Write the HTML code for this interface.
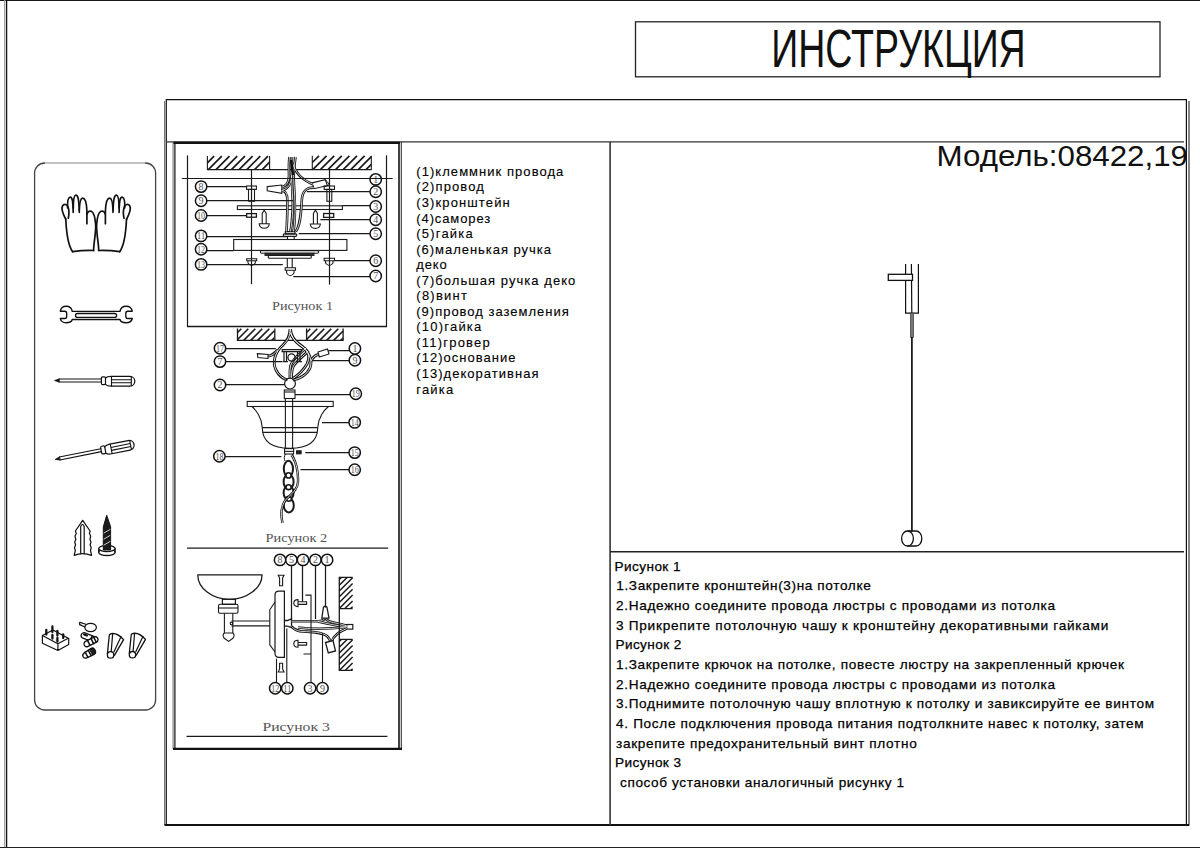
<!DOCTYPE html>
<html><head><meta charset="utf-8">
<style>
html,body{margin:0;padding:0;background:#fff;width:1200px;height:848px;overflow:hidden;}
svg{position:absolute;left:0;top:0;display:block;}
.s{font-family:"Liberation Sans",sans-serif;fill:#111;}
.v{font-family:"Liberation Sans",sans-serif;font-size:13px;fill:#000;stroke:#000;stroke-width:0.12px;}
.c{font-family:"Liberation Sans",sans-serif;font-size:13.6px;fill:#000;stroke:#000;stroke-width:0.25px;}
.n{font-family:"Liberation Serif",serif;font-size:10px;fill:#555;}
.m{font-family:"Liberation Serif",serif;fill:#555;}
</style></head><body>
<svg width="1200" height="848" viewBox="0 0 1200 848">
<g fill="none" stroke="#000" stroke-linecap="butt">
<!-- outer frame -->
<line x1="0" y1="0.5" x2="1200" y2="0.5" stroke="#1a1a1a" stroke-width="1.2"/>
<line x1="4.7" y1="0" x2="4.7" y2="848" stroke="#999" stroke-width="1.2"/>
<line x1="6.6" y1="0" x2="6.6" y2="848" stroke="#111" stroke-width="1.3"/>
<line x1="0" y1="847.5" x2="1200" y2="847.5" stroke="#222" stroke-width="1.2"/>
<!-- title box -->
<rect x="635.5" y="21.8" width="524.5" height="55" stroke="#222" stroke-width="1.3"/>
<!-- main box -->
<line x1="166" y1="99.6" x2="1187" y2="99.6" stroke="#111" stroke-width="1.4"/>
<line x1="164.6" y1="101" x2="164.6" y2="825" stroke="#777" stroke-width="1.2"/>
<line x1="166.3" y1="99" x2="166.3" y2="825" stroke="#111" stroke-width="1.2"/>
<line x1="1186.4" y1="99" x2="1186.4" y2="825" stroke="#111" stroke-width="1.2"/>
<line x1="1189" y1="101" x2="1189" y2="825.5" stroke="#444" stroke-width="1.3"/>
<line x1="164.5" y1="825" x2="1189" y2="825" stroke="#111" stroke-width="2"/>
<line x1="166" y1="141.9" x2="1184" y2="141.9" stroke="#333" stroke-width="1.3"/>
<!-- column divider -->
<line x1="610.1" y1="142" x2="610.1" y2="825" stroke="#333" stroke-width="1.6"/>
<line x1="610" y1="551.8" x2="1184" y2="551.8" stroke="#222" stroke-width="1.5"/>
<!-- inner diagram box -->
<line x1="173" y1="142.9" x2="400" y2="142.9" stroke="#111" stroke-width="2.2"/>
<line x1="173.1" y1="142" x2="173.1" y2="749" stroke="#777" stroke-width="1.1"/>
<line x1="174.9" y1="142" x2="174.9" y2="749" stroke="#111" stroke-width="1.2"/>
<line x1="399" y1="142" x2="399" y2="749" stroke="#111" stroke-width="1.6"/>
<line x1="401.3" y1="142" x2="401.3" y2="749" stroke="#333" stroke-width="1.1"/>
<line x1="173" y1="748.8" x2="402" y2="748.8" stroke="#111" stroke-width="2.2"/>
<!-- tools panel -->
<rect x="34.6" y="163" width="121" height="547" rx="10" ry="10" stroke="#444" stroke-width="1.3"/>
<line x1="45" y1="163" x2="145" y2="163" stroke="#fff" stroke-width="1.6"/>
<line x1="45" y1="163" x2="145" y2="163" stroke="#aaa" stroke-width="1.2"/>
</g>


<!-- TOOLS -->
<g id="tools" fill="none" stroke="#111" stroke-width="1.45" stroke-linejoin="round" stroke-linecap="round">
<g stroke-width="1.7">
<path d="M72.6 251.7 C68.5 246 66.5 236 65.8 219"/>
<path d="M65.6 219 C62.5 213 61.3 208 62.6 205.8 C64 203.8 66.8 204 68 206.8 C69 209.5 69.2 214 68.3 218.2"/>
<path d="M67.6 208 C67.3 202 67.8 198 69.8 197.3 C72 196.6 73 200 73.2 212.3"/>
<path d="M73.3 208 C73.3 201 73.8 195.2 75.8 195.1 C78.2 195 79 200 79.3 212.3"/>
<path d="M79.3 210 C79.6 203 80.5 198.2 82.6 198.2 C85.3 198.2 86.6 203 86.9 211 V223.7"/>
<path d="M87.1 214 C87.6 211.6 89.6 210.6 91.3 211.3 C93.8 212.3 95 217 95.6 224 C96.3 232 93.6 243 93.6 250.5"/>
<path d="M72.6 251.7 C80 250.6 87 250.3 93.6 250.5"/>
</g>
<g transform="translate(192.3 0) scale(-1 1)" stroke-width="1.7">
<path d="M72.6 251.7 C68.5 246 66.5 236 65.8 219"/>
<path d="M65.6 219 C62.5 213 61.3 208 62.6 205.8 C64 203.8 66.8 204 68 206.8 C69 209.5 69.2 214 68.3 218.2"/>
<path d="M67.6 208 C67.3 202 67.8 198 69.8 197.3 C72 196.6 73 200 73.2 212.3"/>
<path d="M73.3 208 C73.3 201 73.8 195.2 75.8 195.1 C78.2 195 79 200 79.3 212.3"/>
<path d="M79.3 210 C79.6 203 80.5 198.2 82.6 198.2 C85.3 198.2 86.6 203 86.9 211 V223.7"/>
<path d="M87.1 214 C87.6 211.6 89.6 210.6 91.3 211.3 C93.8 212.3 95 217 95.6 224 C96.3 232 93.6 243 93.6 250.5"/>
<path d="M72.6 251.7 C80 250.6 87 250.3 93.6 250.5"/>
</g>
<!-- wrench -->
<path d="M60.3 311.2 C60.8 307.8 63.2 306.2 66.2 306.2 C69.5 306.2 71.8 308.5 72.2 311.3 H120 C120.4 308.5 122.8 306.2 126.2 306.2 C129.3 306.2 131.7 307.8 132.3 311.2 H127.6 C126.4 311.2 125.8 312 125.8 313.5 V316.2 C125.8 317.7 126.4 318.5 127.6 318.5 H132.3 C131.7 321.2 129.3 322.7 126.2 322.7 C122.8 322.7 120.4 321.4 120 319.5 H72.2 C71.8 321.4 69.5 322.7 66.2 322.7 C63.2 322.7 60.8 321.2 60.3 318.5 H64.8 C66 318.5 66.7 317.7 66.7 316.2 V313.5 C66.7 312 66 311.2 64.8 311.2 Z" stroke-width="1.35"/>
<rect x="75.5" y="313.5" width="41.1" height="3.9" rx="1.95" stroke-width="1.3"/>
<!-- screwdriver 1 -->
<g>
<path d="M59 379 L54.6 380.5 L59 382 Z" fill="#111" stroke-width="0.8"/>
<path d="M59 379 H101.4 M59 382 H101.4" stroke-width="1.1"/>
<rect x="101.4" y="376.8" width="4.1" height="7.8" rx="1.3" stroke-width="1.2"/>
<path d="M105.5 378 C107 376.4 108.5 376.4 111 376.4 H129.8 C132.8 376.4 134.8 378.7 134.8 381.2 C134.8 383.8 132.8 386.1 129.8 386.1 H111 C108.5 386.1 107 386 105.5 384.4" stroke-width="1.25"/>
<path d="M111.5 376.5 V386 M131.3 376.8 V385.7 M111.5 379.8 H131.3 M111.5 382.8 H131.3" stroke-width="1.1"/>
</g>
<g transform="translate(0.65 78.9) rotate(-11.4 54.6 380.5)">
<path d="M59 379 L54.6 380.5 L59 382 Z" fill="#111" stroke-width="0.8"/>
<path d="M59 379 H101.4 M59 382 H101.4" stroke-width="1.1"/>
<rect x="101.4" y="376.8" width="4.1" height="7.8" rx="1.3" stroke-width="1.2"/>
<path d="M105.5 378 C107 376.4 108.5 376.4 111 376.4 H129.8 C132.8 376.4 134.8 378.7 134.8 381.2 C134.8 383.8 132.8 386.1 129.8 386.1 H111 C108.5 386.1 107 386 105.5 384.4" stroke-width="1.25"/>
<path d="M111.5 376.5 V386 M131.3 376.8 V385.7 M111.5 379.8 H131.3 M111.5 382.8 H131.3" stroke-width="1.1"/>
</g>
<!-- anchor -->
<path d="M82.7 520.3 L75.4 531 L76.3 533.5 L75 536 L75.8 539.5 L74.7 542 L75.6 545 L74.5 547.5 L75.3 550.5 L74.2 555.4 C79 553.3 86 553.3 91.6 555.4 L90.5 550.5 L91.2 547.5 L90.1 545 L91 542 L89.9 539.5 L90.7 536 L89.4 533.5 L90.1 531 Z" stroke-width="1.2"/>
<path d="M80.7 553.6 V526.5 Q82.5 522.5 84.2 526.5 V553.6" stroke-width="1.2"/>
<!-- screw -->
<ellipse cx="106.9" cy="552.2" rx="8.2" ry="3.3" stroke-width="1.3"/>
<path d="M98.7 548.5 V552 M115.1 548.5 V552" stroke-width="1.2"/>
<ellipse cx="106.9" cy="548.5" rx="8.2" ry="3.1" fill="#fff" stroke-width="1.3"/>
<path d="M106.6 515.6 L103.3 527 V550 H110.6 V527 Z" fill="#1a1a1a" stroke-width="1"/>
<path d="M104 533 L110 529.5 M104 539 L110 535.5 M104 545 L110 541.5" stroke="#ddd" stroke-width="0.9"/>
<!-- terminal block -->
<path d="M42.4 635.5 L53 630 L68.2 638.3 L57.9 643.8 Z M42.4 635.5 V643.3 L57.9 650.5 L68.7 644.4 V638.3 M57.9 643.8 V650.5" stroke-width="1.2"/>
<path d="M46.3 634.5 V630 M52.4 632 V626.5 M57.4 635.5 V631 M63.2 638 V634.5 M52.4 638.5 V635 M57.4 641.5 V638" stroke-width="2.3"/>
<!-- ring lug -->
<ellipse cx="90.6" cy="627.5" rx="5.8" ry="4.1" stroke-width="1.2"/>
<path d="M80 622.4 L85.8 624.3 M79.8 624.6 L84.8 627" stroke-width="1.2"/>
<path d="M80 622.4 Q79 623.6 79.8 624.6" stroke-width="1.2"/>
<!-- ferrules -->
<g transform="translate(89.3 637.6) rotate(21)">
<rect x="-8.5" y="-2.8" width="17" height="5.6" rx="2.8" stroke-width="1.3"/>
<path d="M-6 -1 L-3 -1" stroke-width="2.2"/>
<path d="M2 -2.8 V2.8 M5 -2.8 V2.8" stroke-width="1.5"/>
</g>
<g transform="translate(91 641.8) rotate(-27)">
<rect x="-7.5" y="-2.8" width="15" height="5.6" rx="2.8" fill="#fff" stroke-width="1.3"/>
<path d="M-2.5 -2.8 V2.8 M1.5 -2.8 V2.8 M4.5 -2.6 V2.6" stroke-width="1.5"/>
</g>
<!-- bullet -->
<g transform="translate(89 653.4) rotate(-29)">
<path d="M-6.8 0 C-6.8 -2 -5.5 -2.6 -3.5 -2.8 L4.5 -3.3 C7.5 -3.3 7.8 3.3 4.5 3.3 L-3.5 2.8 C-5.5 2.6 -6.8 2 -6.8 0 Z" stroke-width="1.3"/>
<path d="M-2.8 -2.9 V2.9 M0.8 -3 V3" stroke-width="1.5"/>
<path d="M2.5 -3.1 H5 C6.5 -3 6.5 3 5 3.1 H2.5 Z" fill="#222" stroke-width="1"/>
</g>
<!-- wire nuts -->
<g>
<circle cx="110.6" cy="654.9" r="3.2" stroke-width="1.3"/>
<path d="M107.4 653.5 L109.4 634.5 C112 633 117 632.6 123.6 639.6 L114.4 655.3" stroke-width="1.3"/>
<path d="M112.6 634.4 L111.2 651.6 M121 636.7 L114 651.8" stroke-width="1.2"/>
</g>
<g transform="translate(21.9 -0.2)">
<circle cx="110.6" cy="654.9" r="3.2" stroke-width="1.3"/>
<path d="M107.4 653.5 L109.4 634.5 C112 633 117 632.6 123.6 639.6 L114.4 655.3" stroke-width="1.3"/>
<path d="M112.6 634.4 L111.2 651.6 M121 636.7 L114 651.8" stroke-width="1.2"/>
</g>
</g>

<!-- FIG 1 -->
<g id="fig1" fill="none" stroke="#1a1a1a" stroke-width="1.1">
<line x1="187.5" y1="155.4" x2="187.5" y2="326.5" stroke-width="1.2"/>
<line x1="386.5" y1="155.3" x2="386.5" y2="326.5" stroke-width="1.2"/>
<line x1="187" y1="326.5" x2="387" y2="326.5" stroke-width="1.4"/>
<!-- ceiling -->
<path d="M207.4 156.1 V169.6 H371.3 V155.8 M269.6 156.1 V169.6 M312.3 155.8 V169.6"/>
<path d="M207.4 162.8 L214.1 156.1 M208.3 169.6 L221.8 156.1 M216.0 169.6 L229.5 156.1 M223.7 169.6 L237.2 156.1 M231.4 169.6 L244.9 156.1 M239.1 169.6 L252.6 156.1 M246.8 169.6 L260.3 156.1 M254.5 169.6 L268.0 156.1 M262.2 169.6 L269.6 162.2"
 stroke-width="1.7"/>
<path d="M312.3 162.5 L319.0 155.8 M313.0 169.4 L326.6 155.8 M320.6 169.4 L334.2 155.8 M328.2 169.4 L341.8 155.8 M335.8 169.4 L349.4 155.8 M343.4 169.4 L357.0 155.8 M351.0 169.4 L364.6 155.8 M358.6 169.4 L371.3 156.7 M366.2 169.4 L371.3 164.3"
 stroke-width="1.7"/>
<line x1="181.9" y1="178.5" x2="392.4" y2="178.5" stroke-width="1.2"/>
<!-- axes -->
<line x1="251.5" y1="169.6" x2="251.5" y2="284.2" stroke-width="1.2"/>
<line x1="329.5" y1="169.4" x2="329.5" y2="284.6" stroke-width="1.2"/>
<!-- bolts 8 -->
<rect x="246.6" y="186" width="9.8" height="3.4"/>
<rect x="248.5" y="189.4" width="6" height="11.8"/>
<rect x="324.2" y="186" width="10.3" height="3.4"/>
<rect x="326.9" y="189.4" width="4.9" height="11.9"/>
<!-- plate 3 -->
<rect x="237.4" y="205.8" width="105" height="3.7"/>
<!-- nuts 10 -->
<rect x="246.6" y="213.6" width="9.8" height="3.6" stroke-width="1.3"/>
<rect x="323.6" y="213.5" width="10.1" height="3.9" stroke-width="1.3"/>
<!-- screws 4 -->
<path d="M262.2 223.8 V213.5 L264.2 210.2 L266.2 213.5 V223.8 M259.2 223.8 H269.3 Q268.8 228.3 264.2 228.3 Q259.6 228.3 259.2 223.8 Z"/>
<path d="M313.4 224 V213.5 L315.4 210 L317.4 213.5 V224 M310.3 224 H320.4 Q319.9 228.4 315.3 228.4 Q310.7 228.4 310.3 224 Z"/>
<!-- base 12 -->
<rect x="233.7" y="239.5" width="113.2" height="10.9"/>
<!-- canopy layers -->
<rect x="260.4" y="250.6" width="58.3" height="2.6" rx="1.2" stroke-width="1.1"/>
<rect x="265" y="253.2" width="49" height="2.2" fill="#333" stroke-width="1"/>
<rect x="268.3" y="255.4" width="43" height="2.9" rx="1" stroke-width="1.1"/>
<!-- nut 5 -->
<path d="M285.4 231.6 H295 V233.8 H285.4 Z" stroke-width="1.2"/>
<rect x="283.3" y="233.8" width="13.4" height="2.5" rx="1" stroke-width="1.2"/>
<path d="M287.5 236.3 V239.5 M294.2 236.3 V239.5"/>
<!-- deco nuts 13/6 -->
<path d="M246.7 258.7 H256.7 V260.8 H246.7 Z M248 260.8 V263 Q251.6 268 255.3 263 V260.8"/>
<path d="M324.2 258.3 H334.5 V260.8 H324.2 Z M325.6 260.8 V263 Q329.3 268 333 263 V260.8"/>
<!-- knob 7 -->
<path d="M287.3 258.1 V267.8 M292.2 258.1 V267.8 M285.2 267.8 H295.5 V270.2 H285.2 Z M286.6 270.2 V273 Q290.3 278.5 294 273 V270.2"/>
<!-- wire nuts -->
<path d="M267.2 186.6 L281.8 185 V193.3 L267.2 190.8 Z"/>
<path d="M312 182.9 L325.3 179.7 L327.4 185.5 L314.1 188.7 Z"/>
<!-- wires -->
<path d="M289.5 157 C288.5 165 289 172 289 176 C289 182 286 186 281.8 187.2" stroke="#111" stroke-width="2.6"/>
<path d="M291.5 175 C291.5 183 288 189.5 281.8 190.3" stroke="#111" stroke-width="2.6"/>
<path d="M281.8 190.8 C286 191 287.2 194 287.3 200 C287.6 212 287 222 286.5 231.4" stroke="#111" stroke-width="2.6"/>
<path d="M292 157 C291.5 170 291.5 180 292.5 195 C293.5 210 292 222 290.5 231.4" stroke="#111" stroke-width="2.6"/>
<path d="M295.5 157 C294.5 165 293 172 294 185 C295 200 296 215 293.5 231.4" stroke="#111" stroke-width="2.6"/>
<path d="M292.5 163 C295 172 302 180 312.8 184.2" stroke="#111" stroke-width="2.6"/>
<path d="M313.6 187.6 C306 187.5 302.5 191 301.8 200 C301 215 300 226 295.8 231.4" stroke="#111" stroke-width="2.6"/>
<path d="M289.5 157 C288.5 165 289 172 289 176 C289 182 286 186 281.8 187.2" stroke="#fff" stroke-width="0.8"/>
<path d="M291.5 175 C291.5 183 288 189.5 281.8 190.3" stroke="#fff" stroke-width="0.8"/>
<path d="M281.8 190.8 C286 191 287.2 194 287.3 200 C287.6 212 287 222 286.5 231.4" stroke="#fff" stroke-width="0.8"/>
<path d="M292 157 C291.5 170 291.5 180 292.5 195 C293.5 210 292 222 290.5 231.4" stroke="#fff" stroke-width="0.8"/>
<path d="M295.5 157 C294.5 165 293 172 294 185 C295 200 296 215 293.5 231.4" stroke="#fff" stroke-width="0.8"/>
<path d="M292.5 163 C295 172 302 180 312.8 184.2" stroke="#fff" stroke-width="0.8"/>
<path d="M313.6 187.6 C306 187.5 302.5 191 301.8 200 C301 215 300 226 295.8 231.4" stroke="#fff" stroke-width="0.8"/>
<path d="M291 160 L293 175" stroke="#111" stroke-width="2.5"/>
<path d="M325.5 180 C328 182 329 184 329 186" stroke-width="1"/>
<!-- leaders -->
<path d="M206.8 186.5 H246.6 M206.8 200.5 H293 M206.8 215.5 H246.6 M206.8 236.5 H287 M206.8 250.5 H233.7 M206.8 264.5 H282.8" stroke-width="1.25"/>
<path d="M306.8 191.5 H370 M342.4 205.5 H370 M320.4 219.5 H370 M298.7 233.5 H370 M334.5 260.5 H370 M293.3 276.5 H370" stroke-width="1.25"/>
</g>
<g fill="#fff" stroke="#111" stroke-width="1.5">
<circle cx="201.1" cy="186.6" r="5.7"/><circle cx="201.1" cy="200.8" r="5.7"/><circle cx="201.1" cy="215.5" r="5.7"/>
<circle cx="201.1" cy="235.9" r="5.7"/><circle cx="201.1" cy="249.2" r="5.7"/><circle cx="201.1" cy="264.4" r="5.7"/>
<circle cx="375.7" cy="179.4" r="5.7"/><circle cx="375.7" cy="191.7" r="5.7"/><circle cx="375.7" cy="206.5" r="5.7"/>
<circle cx="375.7" cy="219.8" r="5.7"/><circle cx="375.7" cy="233.7" r="5.7"/><circle cx="375.7" cy="260.8" r="5.7"/>
<circle cx="375.7" cy="276" r="5.7"/>
</g>
<g class="n" text-anchor="middle">
<text x="201.1" y="189.9">8</text><text x="201.1" y="204.1">9</text><text x="201.1" y="218.8" textLength="8" lengthAdjust="spacingAndGlyphs">10</text>
<text x="201.1" y="239.2" textLength="8" lengthAdjust="spacingAndGlyphs">11</text><text x="201.1" y="252.5" textLength="8" lengthAdjust="spacingAndGlyphs">12</text><text x="201.1" y="267.7" textLength="8" lengthAdjust="spacingAndGlyphs">13</text>
<text x="375.7" y="182.7">1</text><text x="375.7" y="195">2</text><text x="375.7" y="209.8">3</text>
<text x="375.7" y="223.1">4</text><text x="375.7" y="237">5</text><text x="375.7" y="264.1">6</text><text x="375.7" y="279.3">7</text>
</g>
<line x1="181.9" y1="178.5" x2="392.4" y2="178.5" stroke="#1a1a1a" stroke-width="1.2"/>
<text class="m" x="272.1" y="309.9" font-size="12.5" textLength="60.9" lengthAdjust="spacingAndGlyphs">Рисунок 1</text>


<!-- FIG 2 -->
<g id="fig2" fill="none" stroke="#1a1a1a" stroke-width="1.1">
<path d="M237.5 328.4 V340.4 H343.1 V328.4 M274.8 328.4 V340.4 M306.6 328.4 V340.4" stroke-width="1.3"/>
<path d="M237.3 332.8 L241.3 328.8 M237.3 339.8 L248.3 328.8 M243.7 340.4 L255.3 328.8 M250.7 340.4 L262.3 328.8 M257.7 340.4 L269.3 328.8 M264.7 340.4 L274.4 330.7 M271.7 340.4 L274.4 337.7" stroke-width="1.6"/>
<path d="M306.3 332.8 L310.3 328.8 M306.3 339.8 L317.3 328.8 M312.7 340.4 L324.3 328.8 M319.7 340.4 L331.3 328.8 M326.7 340.4 L338.3 328.8 M333.7 340.4 L343.1 331.0 M340.7 340.4 L343.1 338.0" stroke-width="1.6"/>
<!-- wires onion -->
<path d="M290 329 C290 336 288 340 283 345 C275 352 272 362 276 370 C279 376 284 379 287.5 380" stroke="#111" stroke-width="2.8"/>
<path d="M290.5 329 C291 336 294 341 300 345 C309 351 313 360 310 368 C307 375 299 379 293 380" stroke="#111" stroke-width="2.8"/>
<path d="M290.5 333 C292 338 297 343 303 347 C309.5 352 310 358 307 364 C303 371 297 376 292 379" stroke="#111" stroke-width="2.8"/>
<path d="M306 348 C301 353 293 358 290.5 366 C289.5 371 290 375 290 378.5" stroke="#111" stroke-width="2.8"/>
<path d="M308.5 350.5 C304 356 296 361 293 367 C291.5 371 291.5 375 291.5 378.5" stroke="#111" stroke-width="2.8"/>
<path d="M268 356 C272 356 275 353 277.5 350" stroke="#111" stroke-width="2.8"/>
<path d="M318.6 354.5 C315 355 312.5 358 311 361" stroke="#111" stroke-width="2.8"/>
<path d="M290 329 C290 336 288 340 283 345 C275 352 272 362 276 370 C279 376 284 379 287.5 380" stroke="#fff" stroke-width="0.9"/>
<path d="M290.5 329 C291 336 294 341 300 345 C309 351 313 360 310 368 C307 375 299 379 293 380" stroke="#fff" stroke-width="0.9"/>
<path d="M290.5 333 C292 338 297 343 303 347 C309.5 352 310 358 307 364 C303 371 297 376 292 379" stroke="#fff" stroke-width="0.9"/>
<path d="M306 348 C301 353 293 358 290.5 366 C289.5 371 290 375 290 378.5" stroke="#fff" stroke-width="0.9"/>
<path d="M308.5 350.5 C304 356 296 361 293 367 C291.5 371 291.5 375 291.5 378.5" stroke="#fff" stroke-width="0.9"/>
<path d="M268 356 C272 356 275 353 277.5 350" stroke="#fff" stroke-width="0.9"/>
<path d="M318.6 354.5 C315 355 312.5 358 311 361" stroke="#fff" stroke-width="0.9"/>
<!-- wire nuts -->
<path d="M257.3 353.6 L268 354.5 V358.5 L257.8 357.6 Z"/>
<path d="M318 352 L327.5 349 L329 354 L319.3 357 Z"/>
<!-- hook bracket -->
<path d="M282.2 349.6 H301.3 V351.6 H282.2 Z M284 351.6 V361.7 M286.5 351.6 V361.7 M297.5 351.6 V361.7 M300 351.6 V361.7 M282.5 361.7 H288 M296 361.7 H302" stroke-width="1.2"/>
<circle cx="291.5" cy="357.5" r="3.6" stroke-width="1.3"/>
<!-- ball + cup -->
<circle cx="290" cy="383.6" r="5.4" stroke-width="1.2"/>
<rect x="284.3" y="390" width="10.7" height="8.5"/>
<line x1="284.3" y1="392" x2="295" y2="392"/>
<!-- bowl -->
<rect x="247.2" y="401.4" width="86" height="5.1"/>
<path d="M252 406.5 C256 410 262 418 262.3 428 C262.5 440 270 448.3 290 448.3 C310 448.3 317.5 440 317.7 428 C318 418 324 410 328.5 406.5"/>
<line x1="262.3" y1="427.6" x2="317.7" y2="427.6"/>
<line x1="262.8" y1="432.4" x2="317.2" y2="432.4"/>
<line x1="285.4" y1="398.5" x2="285.4" y2="448.3"/>
<line x1="292.6" y1="398.5" x2="292.6" y2="448.3"/>
<rect x="284.6" y="448.6" width="9" height="5.4"/><line x1="284.6" y1="451.4" x2="293.6" y2="451.4"/>
<rect x="296.6" y="450.8" width="4.5" height="3" fill="#222"/>
<!-- chain -->
<path d="M285.5 454 C284 456 284 459 285 461 M292 454 C294 456 294.5 458 293.5 461" stroke-width="1"/>
<ellipse cx="288.4" cy="468.8" rx="4.6" ry="8" stroke-width="2"/>
<ellipse cx="288.6" cy="481.7" rx="5" ry="7.4" stroke-width="2"/>
<ellipse cx="288.6" cy="492.7" rx="5" ry="7" stroke-width="2"/>
<ellipse cx="288.8" cy="505.4" rx="5" ry="7" stroke-width="2"/>
<ellipse cx="288.5" cy="475.4" rx="2.6" ry="2.6" fill="#fff" stroke-width="1.6"/>
<ellipse cx="288.6" cy="487.2" rx="2.6" ry="2.4" fill="#fff" stroke-width="1.6"/>
<ellipse cx="288.8" cy="498.8" rx="2.6" ry="2.4" fill="#fff" stroke-width="1.6"/>
<path d="M291.5 455 C296 461 298.5 472 298 482 C297.5 490 291 494 285.5 500 C282 505 280 512 282.5 523" stroke="#111" stroke-width="2.4"/>
<path d="M291.5 455 C296 461 298.5 472 298 482 C297.5 490 291 494 285.5 500 C282 505 280 512 282.5 523" stroke="#fff" stroke-width="0.8"/>
<!-- leaders -->
<path d="M225.8 348.5 H275.8 M225.8 361.5 H282.2 M225.8 384.5 H284.6 M225.1 456.5 H281.4" stroke-width="1.25"/>
<path d="M328.2 350.5 H349.2 M312.6 360.5 H349.2 M295.0 394.5 H350.2 M322.0 422.5 H349 M305.3 452.5 H349 M300.5 469.5 H349" stroke-width="1.25"/>
</g>
<g fill="#fff" stroke="#111" stroke-width="1.5">
<circle cx="220" cy="348.2" r="5.7"/><circle cx="220" cy="361.6" r="5.7"/><circle cx="220" cy="385" r="5.7"/><circle cx="219.4" cy="456.2" r="5.7"/>
<circle cx="354.9" cy="348.5" r="5.7"/><circle cx="354.9" cy="360.2" r="5.7"/><circle cx="355.8" cy="393.8" r="5.7"/>
<circle cx="354.7" cy="422.4" r="5.7"/><circle cx="354.7" cy="452.6" r="5.7"/><circle cx="354.7" cy="469.8" r="5.7"/>
</g>
<g class="n" text-anchor="middle">
<text x="220" y="351.5" textLength="8" lengthAdjust="spacingAndGlyphs">17</text><text x="220" y="364.9">7</text><text x="220" y="388.3">2</text><text x="219.4" y="459.5" textLength="8" lengthAdjust="spacingAndGlyphs">18</text>
<text x="354.9" y="351.8">1</text><text x="354.9" y="363.5">9</text><text x="355.8" y="397.1" textLength="8" lengthAdjust="spacingAndGlyphs">19</text>
<text x="354.7" y="425.7" textLength="8" lengthAdjust="spacingAndGlyphs">14</text><text x="354.7" y="455.9" textLength="8" lengthAdjust="spacingAndGlyphs">15</text><text x="354.7" y="473.1" textLength="8" lengthAdjust="spacingAndGlyphs">16</text>
</g>
<text class="m" x="265.5" y="542.4" font-size="12.5" textLength="61.8" lengthAdjust="spacingAndGlyphs">Рисунок 2</text>
<line x1="187" y1="548.2" x2="388.2" y2="548.2" stroke="#1a1a1a" stroke-width="1.3"/>

<!-- FIG 3 -->
<g id="fig3" fill="none" stroke="#1a1a1a" stroke-width="1.1">
<!-- bowl -->
<path d="M197.8 574.9 H262 C262 588 247 599.3 229.6 599.3 C212 599.3 197.8 588 197.8 574.9 Z" stroke-width="1.3"/>
<rect x="222.4" y="599.3" width="13" height="5" stroke-width="1.2"/>
<rect x="218.5" y="604.2" width="19.5" height="9.1" rx="1.5"/>
<line x1="218.5" y1="608" x2="238" y2="608"/>
<path d="M224.4 613.3 V633 M232.8 613.3 V633"/>
<path d="M224.4 633 C223 634 222.5 636 224 638 L228.6 641.4 L233.2 638 C234.6 636 234.3 634 232.8 633 Z"/>
<!-- arm -->
<path d="M231.5 621 H269.8 M231.5 625.9 H269.8"/>
<circle cx="231.5" cy="623.4" r="1.3"/>
<!-- backplate -->
<path d="M269.8 609.7 V644.7 L275 652 M269.8 609.7 L275 602"/>
<path d="M275 595 Q275 591.2 279 591.2 H284.4 V657.4 H279 Q275 657.4 275 653 Z" stroke-width="1.2"/>
<!-- screws 8 / 12 -->
<path d="M278.2 575.3 H284 L282.6 578 V585.7 H279.6 V578 Z"/>
<path d="M279.6 663.3 H282.6 V669 L284 672 H278.2 L279.6 669 Z"/>
<!-- rod & washer -->
<path d="M284.4 620.5 H287.5 L291.5 618.8 V627.6 L287.5 626.2 H284.4" stroke-width="1.3"/>
<rect x="346.7" y="624.5" width="6.1" height="4.6" stroke-width="1.2"/>
<!-- wires -->
<path d="M291.5 621.2 H318 C322 621.2 324 620 325.2 618.2" stroke="#111" stroke-width="2.6"/>
<path d="M325.5 618.5 C327 621 332 622.5 338 623.5 C342 624.2 344 625 346.7 625.8" stroke="#111" stroke-width="2.6"/>
<path d="M291.5 626.5 C294 629 297 631.3 303 631.5 C312 632 322 632 327 636 C329 638 330 640 330.5 642" stroke="#111" stroke-width="2.6"/>
<path d="M298 627.5 C310 629 325 629.5 346.7 627" stroke="#111" stroke-width="2.6"/>
<path d="M318 621.5 C328 623.5 336 626 346.7 626.5" stroke="#111" stroke-width="2.6"/>
<path d="M331.5 642 C333 637 338 632 346.7 628.5" stroke="#111" stroke-width="2.6"/>
<path d="M291.5 621.2 H318 C322 621.2 324 620 325.2 618.2" stroke="#fff" stroke-width="0.8"/>
<path d="M325.5 618.5 C327 621 332 622.5 338 623.5 C342 624.2 344 625 346.7 625.8" stroke="#fff" stroke-width="0.8"/>
<path d="M291.5 626.5 C294 629 297 631.3 303 631.5 C312 632 322 632 327 636 C329 638 330 640 330.5 642" stroke="#fff" stroke-width="0.8"/>
<path d="M298 627.5 C310 629 325 629.5 346.7 627" stroke="#fff" stroke-width="0.8"/>
<path d="M318 621.5 C328 623.5 336 626 346.7 626.5" stroke="#fff" stroke-width="0.8"/>
<path d="M331.5 642 C333 637 338 632 346.7 628.5" stroke="#fff" stroke-width="0.8"/>
<!-- wire nuts -->
<path d="M321.8 618.2 L323.5 607 Q325.2 605.5 326.9 607 L329 618.2 Z" fill="#fff" stroke-width="1.3"/>
<path d="M325.5 642.5 L333 640.5 L335.5 651 L328.3 653 Z" fill="#fff" stroke-width="1.3"/>
<!-- mounting screws horiz -->
<path d="M298 599.6 V606.6 Q293.8 606.6 293.8 603.1 Q293.8 599.6 298 599.6 Z M298 601.8 H306.6 V604.4 H298"/>
<path d="M298 640.3 V647.3 Q293.8 647.3 293.8 643.8 Q293.8 640.3 298 640.3 Z M298 642.5 H306.6 V645.1 H298"/>
<!-- wall -->
<path d="M352.6 577.4 H339.3 V670.4 H352.6 M339.3 608.6 H352.6 M339.3 639.4 H352.6" stroke-width="1.3"/>
<path d="M339.3 579.4 L341.3 577.4 M339.3 585.2 L347.1 577.4 M339.3 591.0 L352.6 577.7 M339.3 596.8 L352.6 583.5 M339.3 602.6 L352.6 589.3 M339.3 608.4 L352.6 595.1 M344.9 608.6 L352.6 600.9 M350.7 608.6 L352.6 606.7" stroke-width="1.45"/>
<path d="M339.3 641.4 L341.3 639.4 M339.3 647.2 L347.1 639.4 M339.3 653.0 L352.6 639.7 M339.3 658.8 L352.6 645.5 M339.3 664.6 L352.6 651.3 M339.3 670.4 L352.6 657.1 M345.1 670.4 L352.6 662.9 M350.9 670.4 L352.6 668.7" stroke-width="1.45"/>
<!-- leaders -->
<path d="M291.5 565.4 V620 M302.5 565.4 V601.8 M315.5 565.4 V619 M325.5 565.4 V607.5" stroke-width="1.25"/>
<path d="M305.4 595.1 H311 V682.3 M303.5 654 H311 M322.5 633 V682.3 M286.8 628.6 V682.3 M276.5 658.8 V682.3"/>
</g>
<g fill="#fff" stroke="#111" stroke-width="1.5">
<circle cx="280" cy="559.9" r="5.7"/><circle cx="291.4" cy="559.9" r="5.7"/><circle cx="303" cy="559.9" r="5.7"/><circle cx="315.4" cy="559.9" r="5.7"/><circle cx="327.1" cy="559.9" r="5.7"/>
<circle cx="275.2" cy="688.2" r="5.7"/><circle cx="287.3" cy="688.2" r="5.7"/><circle cx="310.1" cy="688.2" r="5.7"/><circle cx="322.5" cy="688.2" r="5.7"/>
</g>
<g class="n" text-anchor="middle">
<text x="280" y="563.2">8</text><text x="291.4" y="563.2">5</text><text x="303" y="563.2">4</text><text x="315.4" y="563.2">2</text><text x="327.1" y="563.2">1</text>
<text x="275.2" y="691.5" textLength="8" lengthAdjust="spacingAndGlyphs">12</text><text x="287.3" y="691.5" textLength="8" lengthAdjust="spacingAndGlyphs">11</text><text x="310.1" y="691.5">3</text><text x="322.5" y="691.5">9</text>
</g>
<text class="m" x="262.4" y="731" font-size="12.5" textLength="67.5" lengthAdjust="spacingAndGlyphs">Рисунок 3</text>
<line x1="186.5" y1="736.3" x2="387.4" y2="736.3" stroke="#1a1a1a" stroke-width="1.3"/>


<!-- PENDANT -->
<g id="pend" fill="none" stroke="#111" stroke-width="1.2">
<path d="M905.6 263.9 V313.1 H918.4 V263.9"/>
<line x1="911.4" y1="263.9" x2="911.8" y2="313.1"/>
<rect x="888.3" y="274.3" width="24.2" height="6.1" fill="#fff" stroke-width="1.3"/>
<rect x="910.6" y="313.1" width="2.8" height="24.2" fill="#777" stroke="#444" stroke-width="0.8"/>
<line x1="911.9" y1="337" x2="911.9" y2="531.5" stroke-width="1.7"/>
<path d="M907.5 531 H916 C919.2 531 921.8 534.4 921.8 538.5 C921.8 542.6 919.2 546 916 546 H907.5" stroke-width="1.3"/>
<ellipse cx="907.5" cy="538.5" rx="5.9" ry="7.5" stroke-width="1.3"/>
</g>

<!-- texts -->
<text class="s" x="771.2" y="67" font-size="53" textLength="254.5" lengthAdjust="spacingAndGlyphs">ИНСТРУКЦИЯ</text>
<text class="s" x="936.5" y="165.8" font-size="29" textLength="251.5" lengthAdjust="spacingAndGlyphs">Модель:08422,19</text>
<text class="v" x="416.3" y="175.8" textLength="147.0" lengthAdjust="spacing">(1)клеммник провода</text>
<text class="v" x="416.3" y="191.4" textLength="67.5" lengthAdjust="spacing">(2)провод</text>
<text class="v" x="416.3" y="206.9" textLength="93.4" lengthAdjust="spacing">(3)кронштейн</text>
<text class="v" x="416.3" y="222.5" textLength="73.9" lengthAdjust="spacing">(4)саморез</text>
<text class="v" x="416.3" y="238.0" textLength="56.4" lengthAdjust="spacing">(5)гайка</text>
<text class="v" x="416.3" y="253.6" textLength="134.7" lengthAdjust="spacing">(6)маленькая ручка</text>
<text class="v" x="416.3" y="269.1" textLength="30.4" lengthAdjust="spacing">деко</text>
<text class="v" x="416.3" y="284.7" textLength="159.0" lengthAdjust="spacing">(7)большая ручка деко</text>
<text class="v" x="416.3" y="300.2" textLength="50.7" lengthAdjust="spacing">(8)винт</text>
<text class="v" x="416.3" y="315.8" textLength="152.4" lengthAdjust="spacing">(9)провод заземления</text>
<text class="v" x="416.3" y="331.3" textLength="65.0" lengthAdjust="spacing">(10)гайка</text>
<text class="v" x="416.3" y="346.9" textLength="73.4" lengthAdjust="spacing">(11)гровер</text>
<text class="v" x="416.3" y="362.4" textLength="99.2" lengthAdjust="spacing">(12)основание</text>
<text class="v" x="416.3" y="378.0" textLength="122.2" lengthAdjust="spacing">(13)декоративная</text>
<text class="v" x="416.3" y="393.5" textLength="36.9" lengthAdjust="spacing">гайка</text>
<text class="c" x="614.5" y="570.8" textLength="66.0" lengthAdjust="spacing">Рисунок 1</text>
<text class="c" x="616.2" y="590.4" textLength="254.5" lengthAdjust="spacing">1.Закрепите кронштейн(3)на потолке</text>
<text class="c" x="616" y="610.1" textLength="439.0" lengthAdjust="spacing">2.Надежно соедините провода люстры с проводами из потолка</text>
<text class="c" x="616" y="629.7" textLength="492.3" lengthAdjust="spacing">3 Прикрепите потолочную чашу к кронштейну декоративными гайками</text>
<text class="c" x="615.5" y="649.4" textLength="65.7" lengthAdjust="spacing">Рисунок 2</text>
<text class="c" x="616" y="669.0" textLength="508.0" lengthAdjust="spacing">1.Закрепите крючок на потолке, повесте люстру на закрепленный крючек</text>
<text class="c" x="616" y="688.6" textLength="439.0" lengthAdjust="spacing">2.Надежно соедините провода люстры с проводами из потолка</text>
<text class="c" x="616" y="708.3" textLength="538.0" lengthAdjust="spacing">3.Поднимите потолочную чашу вплотную к потолку и завиксируйте ее винтом</text>
<text class="c" x="616" y="727.9" textLength="527.7" lengthAdjust="spacing">4. После подключения провода питания подтолкните навес к потолку, затем</text>
<text class="c" x="616" y="747.6" textLength="300.7" lengthAdjust="spacing">закрепите предохранительный винт плотно</text>
<text class="c" x="615" y="767.2" textLength="66.0" lengthAdjust="spacing">Рисунок 3</text>
<text class="c" x="620" y="786.8" textLength="284.0" lengthAdjust="spacing">способ установки аналогичный рисунку 1</text>
</svg>
</body></html>
